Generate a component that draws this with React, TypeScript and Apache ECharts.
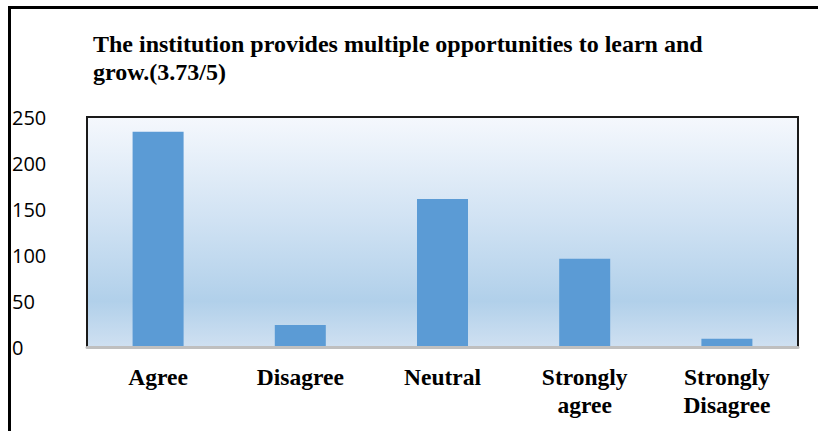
import React, { useEffect, useRef } from "react";
import * as echarts from "echarts";

const categories = ["Agree", "Disagree", "Neutral", "Strongly\nagree", "Strongly\nDisagree"];
const counts = [234, 24, 161, 96, 9];
const yTicks = { min: 0, max: 250, interval: 50 };
const titleText = "The institution provides multiple opportunities to learn and\ngrow.(3.73/5)";

export default function App() {
  const ref = useRef<HTMLDivElement>(null);
  useEffect(() => {
    if (!ref.current) return;
    const chart = echarts.init(ref.current, null, { renderer: "svg" });
    chart.setOption({
      animation: false,
      backgroundColor: "#ffffff",
      title: {
        text: titleText,
        left: 93,
        top: 30,
        padding: 0,
        textStyle: {
          fontFamily: "'Liberation Serif', 'Times New Roman', serif",
          fontWeight: "bold",
          fontSize: 24,
          lineHeight: 28,
          color: "#000000",
        },
      },
      grid: {
        left: 87,
        top: 117,
        right: 20,
        bottom: 84,
        show: true,
        borderColor: "#1a1a1a",
        borderWidth: 2,
        backgroundColor: new echarts.graphic.LinearGradient(0, 0, 0, 1, [
          { offset: 0, color: "#f5f8fd" },
          { offset: 0.45, color: "#d0e2f3" },
          { offset: 0.8, color: "#b1d0ea" },
          { offset: 1, color: "#cfe0f1" },
        ]),
      },
      xAxis: {
        type: "category",
        data: categories,
        axisLine: { show: true, lineStyle: { color: "#bfbfbf", width: 3 } },
        axisTick: { show: false },
        axisLabel: {
          margin: 16,
          interval: 0,
          fontFamily: "'Liberation Serif', 'Times New Roman', serif",
          fontWeight: "bold",
          fontSize: 23.5,
          lineHeight: 28,
          color: "#000000",
        },
        z: 5,
      },
      yAxis: {
        type: "value",
        min: yTicks.min,
        max: yTicks.max,
        interval: yTicks.interval,
        axisLine: { show: false },
        axisTick: { show: false },
        splitLine: { show: false },
        axisLabel: {
          align: "left",
          margin: 75,
          fontFamily: "'Open Sans', 'Noto Sans', sans-serif",
          fontSize: 20,
          color: "#000000",
        },
      },
      series: [
        {
          type: "bar",
          data: counts,
          barWidth: 51,
          itemStyle: { color: "#5b9bd5" },
        },
      ],
      graphic: [
        {
          type: "polyline",
          shape: { points: [[9.5, 431], [9.5, 7.5], [818, 7.5]] },
          style: { stroke: "#000000", lineWidth: 3, fill: null },
          silent: true,
        },
      ],
    });
    return () => chart.dispose();
  }, []);
  return (
    <div
      ref={ref}
      style={{ position: "fixed", left: 0, top: 0, width: 818, height: 431 }}
    />
  );
}
